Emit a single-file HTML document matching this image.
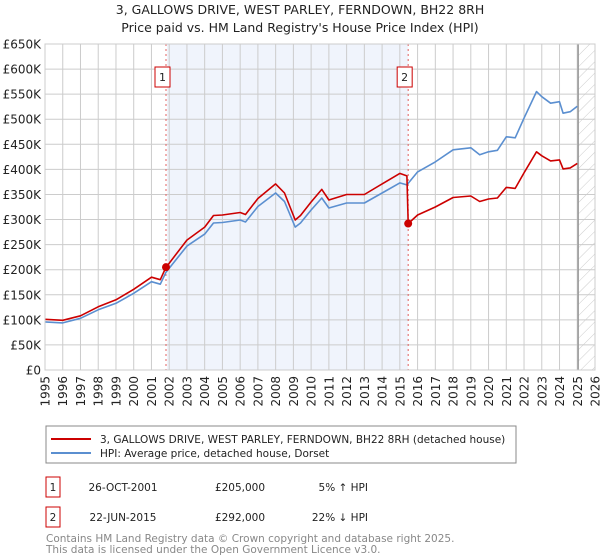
<!DOCTYPE html>
<html><head><meta charset="utf-8"><style>
body{margin:0;background:#fff;}
svg{display:block;font-family:"DejaVu Sans","Liberation Sans",sans-serif;}
</style></head><body>
<svg id="chart" width="600" height="560" viewBox="0 0 600 560">
<defs>
<pattern id="hatch" width="8" height="8" patternUnits="userSpaceOnUse" patternTransform="rotate(45)">
<line x1="0" y1="0" x2="0" y2="8" stroke="#ccc" stroke-width="1"/>
</pattern>
</defs>
<text x="300" y="14" text-anchor="middle" font-size="12.5" fill="#222">3, GALLOWS DRIVE, WEST PARLEY, FERNDOWN, BH22 8RH</text>
<text x="300" y="32" text-anchor="middle" font-size="12.5" fill="#222">Price paid vs. HM Land Registry's House Price Index (HPI)</text>
<g id="plot"></g>
<g>
<rect x="46" y="426" width="470" height="37" fill="#fff" stroke="#888"/>
<line x1="51" y1="439" x2="91" y2="439" stroke="#cc0000" stroke-width="2"/>
<text x="100" y="443" font-size="10.5" fill="#222">3, GALLOWS DRIVE, WEST PARLEY, FERNDOWN, BH22 8RH (detached house)</text>
<line x1="51" y1="453" x2="91" y2="453" stroke="#5b8fd0" stroke-width="2"/>
<text x="100" y="457" font-size="10.5" fill="#222">HPI: Average price, detached house, Dorset</text>
</g>
<g font-size="10.5" fill="#222">
<rect x="46" y="477" width="14" height="20" fill="#fff" stroke="#cc0000"/>
<text x="53" y="491" text-anchor="middle">1</text>
<text x="123" y="491" text-anchor="middle">26-OCT-2001</text>
<text x="240" y="491" text-anchor="middle">£205,000</text>
<text x="368" y="491" text-anchor="end">5% ↑ HPI</text>
<rect x="46" y="507" width="14" height="20" fill="#fff" stroke="#cc0000"/>
<text x="53" y="521" text-anchor="middle">2</text>
<text x="123" y="521" text-anchor="middle">22-JUN-2015</text>
<text x="240" y="521" text-anchor="middle">£292,000</text>
<text x="368" y="521" text-anchor="end">22% ↓ HPI</text>
</g>
<text x="46" y="542" font-size="10.5" fill="#888">Contains HM Land Registry data © Crown copyright and database right 2025.</text>
<text x="46" y="553" font-size="10.5" fill="#888">This data is licensed under the Open Government Licence v3.0.</text>
</svg>
<script>
const hpiDates=[1995,1996,1997,1998,1999,2000,2001,2001.5,2001.82,2002,2003,2004,2004.5,2005,2006,2006.3,2007,2008,2008.5,2009.1,2009.4,2010,2010.6,2011,2012,2013,2014,2015,2015.4,2016,2017,2018,2019,2019.5,2020,2020.5,2021,2021.5,2022,2022.7,2023,2023.5,2024,2024.2,2024.6,2025];
const hpiValues=[96,94,103,120,133,153,176,171,195,203,247,271,293,294,299,295,326,353,336,285,293,319,343,323,333,333,353,373,369,395,415,439,443,429,435,438,465,463,502,555,545,532,535,512,515,526];
const propDates=[1995,1996,1997,1998,1999,2000,2001,2001.5,2001.82,2002,2003,2004,2004.5,2005,2006,2006.3,2007,2008,2008.5,2009.1,2009.4,2010,2010.6,2011,2012,2013,2014,2015,2015.4,2015.47,2016,2017,2018,2019,2019.5,2020,2020.5,2021,2021.5,2022,2022.7,2023,2023.5,2024,2024.2,2024.6,2025];
const propValues=[101,99,108,126,140,161,185,180,205,213,259,285,308,309,314,310,342,371,353,299,308,335,360,339,350,350,371,392,387,292,309,325,344,347,336,341,343,364,362,393,435,427,417,419,401,403,412];
const saleDates=[2001.82,2015.47];
const saleValues=[205,292];
const saleLabels=["1","2"];
const yTicks=[0,50,100,150,200,250,300,350,400,450,500,550,600,650];
const yTickLabels=["£0","£50K","£100K","£150K","£200K","£250K","£300K","£350K","£400K","£450K","£500K","£550K","£600K","£650K"];
const xTicks=[1995,1996,1997,1998,1999,2000,2001,2002,2003,2004,2005,2006,2007,2008,2009,2010,2011,2012,2013,2014,2015,2016,2017,2018,2019,2020,2021,2022,2023,2024,2025,2026];
const dataEnd=2025.05;

const X0=45,X1=595,Y0=370,Y1=44;
const xs=d=>X0+(d-1995)/(2026-1995)*(X1-X0);
const ys=v=>Y0-v/650*(Y0-Y1);
const NS="http://www.w3.org/2000/svg";
const plot=document.getElementById('plot');
function mk(tag,attrs,parent){const e=document.createElementNS(NS,tag);for(const k in attrs)e.setAttribute(k,attrs[k]);(parent||plot).appendChild(e);return e;}

let r=mk('rect',{x:xs(saleDates[0])+1,y:Y1,width:xs(saleDates[1])-xs(saleDates[0])-1,height:Y0-Y1,fill:'#f0f4fc'});


r=mk('rect',{x:xs(dataEnd),y:Y1,width:X1-xs(dataEnd),height:Y0-Y1,fill:'url(#hatch)'});



yTicks.forEach((t,i)=>{
  const g=mk('line',{x1:X0,x2:X1,y1:ys(t),y2:ys(t),stroke:'#cccccc','stroke-width':1});
  
  
  const tx=mk('text',{x:41,y:ys(t)+4.5,'text-anchor':'end','font-size':'12',fill:'#222'});
  tx.textContent=yTickLabels[i];
  
  
});
xTicks.forEach(t=>{
  const g=mk('line',{x1:xs(t),x2:xs(t),y1:Y1,y2:Y0,stroke:'#cccccc','stroke-width':1});
  
  
  const tx=mk('text',{x:0,y:0,'text-anchor':'end','font-size':'12',fill:'#222',transform:`translate(${xs(t)+4.5},376) rotate(-90)`});
  tx.textContent=String(t);
  
  
});
let ln=mk('line',{x1:xs(dataEnd),x2:xs(dataEnd),y1:Y1,y2:Y0,stroke:'#999','stroke-width':1.5});



saleDates.forEach((d,i)=>{
  const l=mk('line',{x1:xs(d),x2:xs(d),y1:Y1,y2:Y0,stroke:'#e06060','stroke-width':1,'stroke-dasharray':'2,3'});
  
  
});

function path(dates,vals,color,name){
  const p=mk('path',{d:dates.map((d,i)=>(i?'L':'M')+xs(d).toFixed(1)+','+ys(vals[i]).toFixed(1)).join(''),fill:'none',stroke:color,'stroke-width':1.6,'stroke-linejoin':'round'});
  
  
}
path(hpiDates,hpiValues,'#5b8fd0','hpi-line');
path(propDates,propValues,'#cc0000','property-price-line');

saleDates.forEach((d,i)=>{
  const c=mk('circle',{cx:xs(d),cy:ys(saleValues[i]),r:4,fill:'#cc0000'});
  
  
  const b=mk('rect',{x:xs(d)-11,y:67,width:15,height:20,fill:'#fff',stroke:'#cc0000'});
  
  
  const t=mk('text',{x:xs(d)-3.5,y:81,'text-anchor':'middle','font-size':'11',fill:'#222'});
  t.textContent=saleLabels[i];
  
  
});
let fr=mk('rect',{x:X0,y:Y1,width:X1-X0,height:Y0-Y1,fill:'none',stroke:'#cccccc'});


</script>
</body></html>
